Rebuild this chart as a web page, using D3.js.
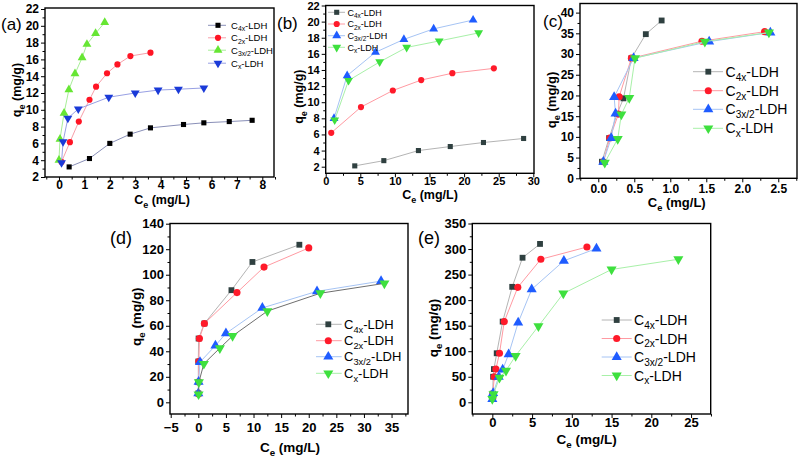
<!DOCTYPE html>
<html><head><meta charset="utf-8">
<script src="https://cdn.jsdelivr.net/npm/d3@7"></script>
<style>
html,body{margin:0;padding:0;background:#fff;}
svg{display:block;}
text{font-family:Arial,'Liberation Sans',sans-serif;fill:#000;}
</style></head><body>
<svg id="c" width="800" height="457"></svg>
<script>
// ---------- DATA ----------
const seriesSubs = ["4x", "2x", "3x/2", "x"];
const panelLabels = ["(a)", "(b)", "(c)", "(d)", "(e)"];

// panel (a)
const a_C4x  = [[0.4,3.2],[1.2,4.2],[2.0,6.0],[2.8,7.1],[3.6,7.85],[4.9,8.25],[5.7,8.45],[6.7,8.6],[7.6,8.75]];
const a_C2x  = [[0.1,3.8],[0.43,6.15],[0.78,8.6],[1.2,11.2],[1.46,12.75],[1.89,14.35],[2.3,15.4],[2.81,16.4],[3.6,16.8]];
const a_C3x2 = [[0,4.0],[0.04,6.5],[0.2,9.6],[0.39,12.4],[0.63,14.3],[0.91,16.2],[1.1,17.8],[1.44,19.1],[1.8,20.4]];
const a_Cx   = [[0.1,3.7],[0.16,6.2],[0.35,9.0],[0.76,10.1],[1.96,11.5],[3.0,12.0],[3.9,12.35],[4.7,12.45],[5.7,12.6]];
// panel (b)
const b_C4x  = [[4.2,2.1],[8.4,2.75],[13.4,4.0],[18.0,4.5],[22.8,5.0],[28.6,5.5]];
const b_C2x  = [[0.8,6.2],[5.1,9.4],[9.7,11.45],[13.8,12.75],[18.3,13.6],[24.3,14.2]];
const b_C3x2 = [[1.2,8.0],[3.1,13.3],[7.2,16.2],[11.3,17.8],[15.6,19.1],[21.3,20.2]];
const b_Cx   = [[1.3,7.8],[3.3,12.7],[7.8,15.0],[11.7,16.8],[16.4,17.6],[22.1,18.6]];
// panel (c)
const c_C4x  = [[0.05,4.0],[0.15,9.7],[0.26,15.5],[0.35,19.3],[0.46,29.0],[0.66,34.8],[0.88,38.1]];
const c_C2x  = [[0.07,4.0],[0.16,9.7],[0.28,15.5],[0.29,19.7],[0.46,29.0],[1.44,33.1],[2.31,35.4]];
const c_C3x2 = [[0.07,4.0],[0.18,9.7],[0.24,15.6],[0.22,19.6],[0.49,29.0],[1.54,33.0],[2.39,35.2]];
const c_Cx   = [[0.09,3.8],[0.27,9.5],[0.32,15.4],[0.43,19.4],[0.51,29.0],[1.48,33.0],[2.37,35.2]];
// panel (d)
const d_C4x  = [[0,7],[0,15.8],[0,32],[0.05,50],[1.1,61.8],[6.0,87.9],[9.8,110],[18.3,123.5]];
const d_C2x  = [[0.05,6.5],[0.05,16],[0.1,32],[0.2,50],[1.1,61.8],[7.0,86],[11.9,106],[20.0,121]];
const d_C3x2 = [[0,7],[0.05,16],[0.3,31.5],[3.1,44.5],[5.0,54],[11.6,74],[21.5,87],[33.1,95]];
const d_Cx   = [[0.05,6.3],[0.1,15.8],[1.0,30.2],[3.9,42.5],[6.2,52],[12.5,71.5],[22.1,85.5],[33.7,93.2]];
// panel (e)
const e_C4x  = [[0,6.5],[0.05,17],[0.1,50],[0.2,65],[0.55,96],[1.3,158],[2.5,226],[3.8,283],[6.0,310]];
const e_C2x  = [[0.05,8],[0.05,16],[0.25,50],[0.45,65],[0.9,96],[1.5,158],[3.2,225],[6.1,280],[11.9,304]];
const e_C3x2 = [[0,6.5],[0.1,18],[0.8,50],[1.3,64],[2.05,94],[3.25,156],[4.95,221],[9.0,277],[13.1,301]];
const e_Cx   = [[0,6.5],[0.15,16],[0.9,48],[1.72,62],[2.93,91],[5.8,149],[8.93,213],[15.0,260],[23.4,280]];

// tick values
const a_xTicks = [0,1,2,3,4,5,6,7,8];
const a_yTicks = [2,4,6,8,10,12,14,16,18,20,22];
const b_xTicks = [0,5,10,15,20,25,30];
const b_yTicks = [2,4,6,8,10,12,14,16,18,20,22];
const c_xTicks = [0,0.5,1.0,1.5,2.0,2.5];
const c_yTicks = [0,5,10,15,20,25,30,35,40];
const d_xTicks = [-5,0,5,10,15,20,25,30,35];
const d_yTicks = [0,20,40,60,80,100,120,140];
const e_xTicks = [0,5,10,15,20,25];
const e_yTicks = [0,50,100,150,200,250,300,350];

// ---------- STYLES ----------
const styleA = {marks:['#000000','#ff1424','#66e633','#1a3ad8'], lines:['#8a90b8','#f7a0aa','#a8ee98','#98a0e4']};
const styleB = {marks:['#2f4040','#ff1a2a','#1f5cff','#3ee03e'], lines:['#b4b4b4','#ff9aa2','#a6c4f4','#a8f0a8']};
const SYMS = [d3.symbolSquare, d3.symbolCircle, d3.symbolTriangle, d3.symbolTriangle];
const ROT = [0,0,0,180];
const NARROW = "'Liberation Sans Narrow','Arial Narrow',Arial,sans-serif";
const ARIAL = "Arial,'Liberation Sans',sans-serif";

const svg = d3.select('#c');

function rich(sel, parts, fs){
  parts.forEach(([s,sub],i)=>{
    const t = sel.append('tspan').text(s);
    if(sub){ t.attr('font-size', fs*0.72).attr('dy', fs*0.28); }
    else if(i>0 && parts[i-1][1]){ t.attr('dy', -fs*0.28); }
  });
}
function range(a,b,s){ const r=[]; for(let v=a; v<=b+1e-9; v+=s) r.push(+v.toFixed(6)); return r; }

function drawPanel(p){
  const g = svg.append('g');
  const x = d3.scaleLinear().domain(p.xd).range([p.x0,p.x1]);
  const y = d3.scaleLinear().domain(p.yd).range([p.y1,p.y0]);
  const st = p.style;

  // series
  p.series.forEach((data,i)=>{
    g.append('path').datum(data)
      .attr('d', d3.line().x(d=>x(d[0])).y(d=>y(d[1])))
      .attr('fill','none').attr('stroke', (p.lineOverride && p.lineOverride[i]) || st.lines[i]).attr('stroke-width',1);
    g.selectAll(null).data(data).join('path')
      .attr('transform', d=>`translate(${x(d[0])},${y(d[1])}) rotate(${ROT[i]})`)
      .attr('d', d3.symbol(SYMS[i], p.msz[i])())
      .attr('fill', st.marks[i]);
  });

  // frame
  g.append('rect').attr('x',p.x0).attr('y',p.y0).attr('width',p.x1-p.x0).attr('height',p.y1-p.y0)
    .attr('fill','none').attr('stroke','#000').attr('stroke-width',1.4);

  // axes
  const fs = p.tfs;
  const padX = p.xBase - 4 - 0.71*fs;
  const xa = g.append('g').attr('transform',`translate(0,${p.y1})`)
    .call(d3.axisBottom(x).tickValues(p.xt).tickSize(4).tickPadding(padX).tickFormat(p.xfmt || d3.format('d')));
  const xm = g.append('g').attr('transform',`translate(0,${p.y1})`)
    .call(d3.axisBottom(x).tickValues(p.xm).tickSize(2.5).tickFormat(''));
  const ya = g.append('g').attr('transform',`translate(${p.x0},0)`)
    .call(d3.axisLeft(y).tickValues(p.yt).tickSize(4).tickPadding(2).tickFormat(d3.format('d')));
  const ym = g.append('g').attr('transform',`translate(${p.x0},0)`)
    .call(d3.axisLeft(y).tickValues(p.ym).tickSize(2.5).tickFormat(''));
  [xa,xm,ya,ym].forEach(a=>{
    a.select('.domain').remove();
    a.selectAll('line').attr('stroke','#000').attr('stroke-width',1);
    a.selectAll('text').attr('font-family',p.tff).attr('font-size',fs).attr('font-weight','bold').attr('fill','#000');
  });

  // titles
  const tx = g.append('text').attr('x',p.xTitle[0]).attr('y',p.xTitle[1]).attr('text-anchor','middle')
    .attr('font-size',p.titfs).attr('font-weight','bold');
  rich(tx, [['C',false],['e',true],[' (mg/L)',false]], p.titfs);
  const ty = g.append('text').attr('transform',`translate(${p.yTitle[0]},${p.yTitle[1]}) rotate(-90)`)
    .attr('text-anchor','middle').attr('font-size',p.titfs).attr('font-weight','bold');
  rich(ty, [['q',false],['e',true],[' (mg/g)',false]], p.titfs);

  // panel label
  g.append('text').attr('x',p.lab[0]).attr('y',p.lab[1]).attr('font-size',p.lab[2]).text(p.labText);

  // legend
  const L = p.leg;
  seriesSubs.forEach((s,i)=>{
    const ry = L.rows[i];
    g.append('line').attr('x1',L.l0).attr('x2',L.l1).attr('y1',ry).attr('y2',ry)
      .attr('stroke', (L.lineColors && L.lineColors[i]) || st.lines[i]).attr('stroke-width',1);
    g.append('path').attr('transform',`translate(${L.m},${ry}) rotate(${ROT[i]})`)
      .attr('d', d3.symbol(SYMS[i], p.msz[i])()).attr('fill', st.marks[i]);
    const t = g.append('text').attr('x',L.t).attr('y',ry).attr('dy','0.36em').attr('font-size',L.fs);
    rich(t, [['C',false],[s,true],['-LDH',false]], L.fs);
  });
}

const mszA = [26, 30, 34, 34];
const mszB = [34, 40, 44, 44];

drawPanel({ labText: panelLabels[0], style: styleA, series:[a_C4x,a_C2x,a_C3x2,a_Cx], msz: mszA,
  x0:45, x1:274, y0:8, y1:177, xd:[-0.55,8.46], yd:[2,22.12],
  xt:a_xTicks, xm:range(-0.5,8.5,0.5).filter(v=>!a_xTicks.includes(v)), yt:a_yTicks, ym:range(3,21,2),
  tfs:12, tff:NARROW, xBase:12,
  titfs:12.5, xTitle:[162,204], yTitle:[21,90], lab:[1,30,17],
  leg:{l0:208,l1:226,m:218,t:231,rows:[25.3,37.8,50.2,63.2],fs:9.5}
});
drawPanel({ labText: panelLabels[1], style: styleB, series:[b_C4x,b_C2x,b_C3x2,b_Cx], msz: mszA,
  x0:325.7, x1:534, y0:5.5, y1:173.3, xd:[0,30.1], yd:[1.18,22],
  xt:b_xTicks, xm:range(2.5,27.5,5), yt:b_yTicks, ym:range(3,21,2),
  tfs:11, tff:NARROW, xBase:11.5,
  titfs:12.5, xTitle:[430,199], yTitle:[303,96.7], lab:[277,29,17],
  leg:{l0:328,l1:345,m:336.7,t:347.5,rows:[12.3,24,35.7,47.3],fs:9}
});
drawPanel({ labText: panelLabels[2], style: styleB, series:[c_C4x,c_C2x,c_C3x2,c_Cx], msz: mszB,
  x0:580, x1:797, y0:3.5, y1:178.3, xd:[-0.254,2.76], yd:[0,42.2],
  xt:c_xTicks, xfmt:d3.format('.1f'), xm:range(-0.25,2.75,0.5), yt:c_yTicks, ym:range(2.5,37.5,5),
  tfs:12, tff:ARIAL, xBase:15,
  titfs:13, xTitle:[676.7,207], yTitle:[556,100], lab:[543,27,17],
  leg:{l0:693,l1:723,m:708.3,t:725.5,rows:[71.7,90.7,109.3,128.3],fs:14}
});
drawPanel({ labText: panelLabels[3], style: styleB, series:[d_C4x,d_C2x,d_C3x2,d_Cx], msz: mszB,
  lineOverride:[null,null,null,'#6e6e6e'],
  x0:170, x1:408, y0:223.5, y1:414, xd:[-5.13,37.98], yd:[-9.15,140.15],
  xt:d_xTicks, xm:range(-2.5,37.5,5), yt:d_yTicks, ym:range(10,130,20),
  tfs:13, tff:ARIAL, xBase:17.5,
  titfs:13.5, xTitle:[290,452], yTitle:[141,316.7], lab:[110,244,18],
  leg:{l0:316,l1:341.7,m:328.3,t:344,rows:[324.3,340.7,356.7,373.3],fs:13}
});
drawPanel({ labText: panelLabels[4], style: styleB, series:[e_C4x,e_C2x,e_C3x2,e_Cx], msz: mszB,
  x0:472.3, x1:710.7, y0:223.5, y1:414, xd:[-2.52,27.47], yd:[-22.9,350],
  xt:e_xTicks, xm:range(-2.5,27.5,5), yt:e_yTicks, ym:range(25,325,50),
  tfs:13, tff:ARIAL, xBase:12.7,
  titfs:13.5, xTitle:[586.7,444], yTitle:[438,328], lab:[418,244,18],
  leg:{l0:601.7,l1:631.7,m:616.7,t:634,rows:[320,338.5,357,375.5],fs:14}
});
</script>
</body></html>
